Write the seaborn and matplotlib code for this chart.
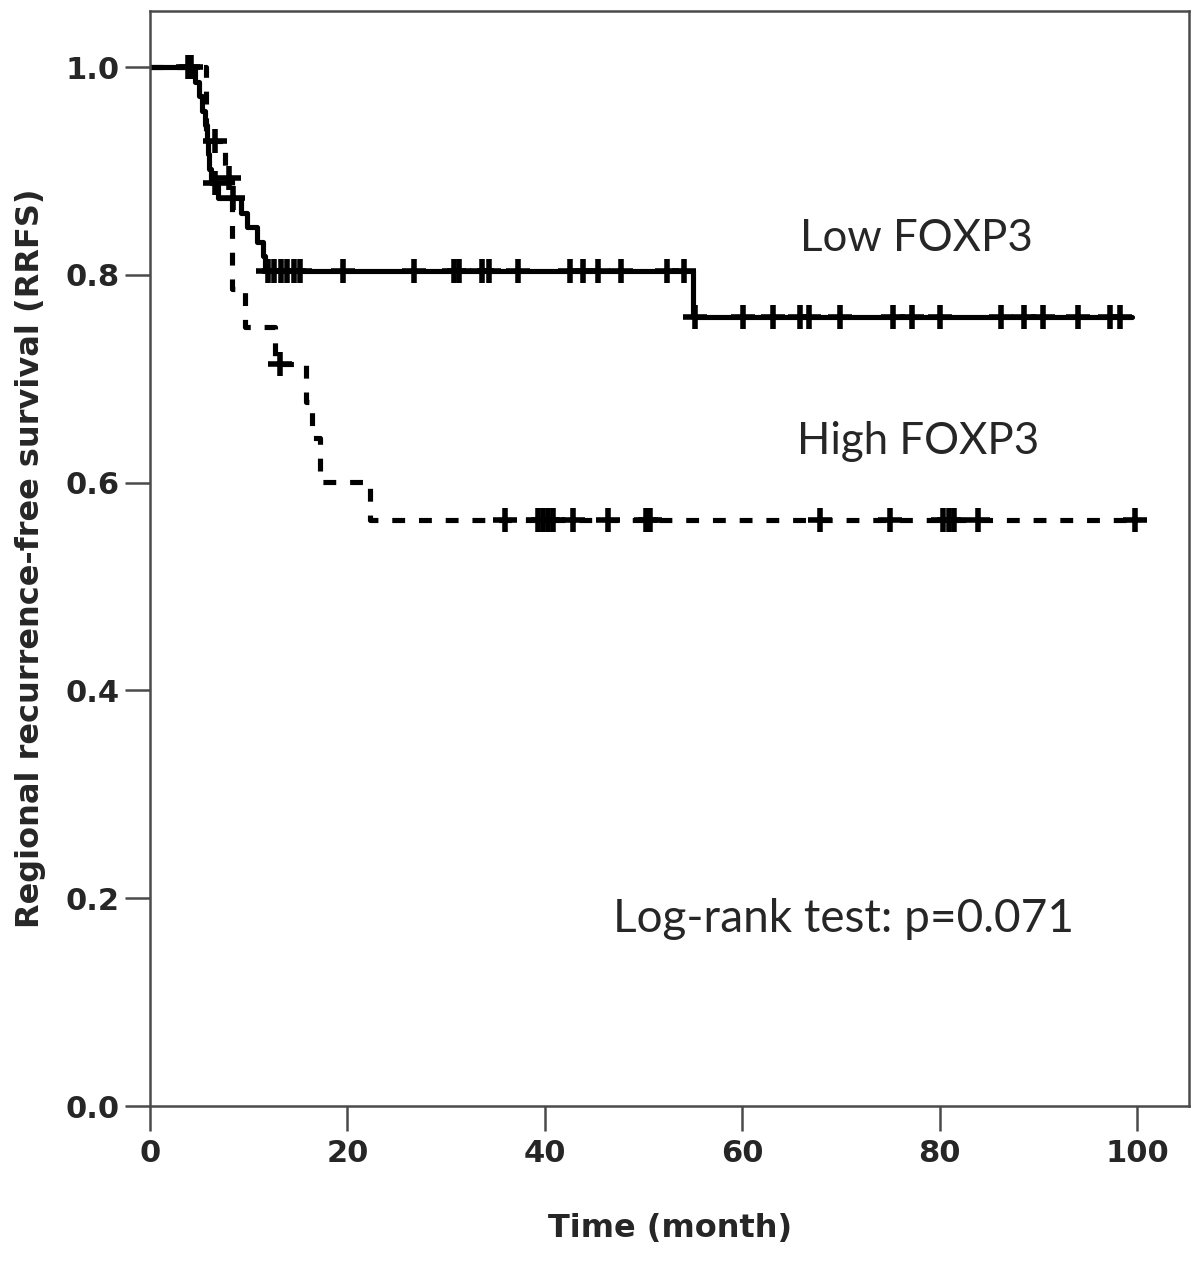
import numpy as np
import pandas as pd
import matplotlib
matplotlib.use("Agg")
import matplotlib.pyplot as plt
import seaborn as sns

# Kaplan-Meier steps (time in months, survival)
low_times = [0, 4.6, 5.0, 5.3, 5.6, 5.8, 5.9, 6.0, 6.2, 6.9, 9.2, 9.8, 10.8, 11.4, 11.7, 55.0, 99.5]
low_surv = [1.0, 0.986, 0.972, 0.958, 0.944, 0.930, 0.916, 0.902, 0.888, 0.874, 0.860, 0.846,
            0.832, 0.818, 0.804, 0.759, 0.759]
low_censor = [3.9, 6.6, 8.4, 12.0, 12.6, 13.3, 13.9, 14.6, 15.2, 19.6, 26.7, 30.8, 31.3, 33.6,
              34.4, 37.3, 42.6, 43.9, 45.4, 47.7, 52.4, 54.1, 55.2, 60.1, 63.1, 65.9, 66.8,
              69.9, 75.3, 77.2, 80.0, 86.2, 88.6, 90.5, 94.0, 97.3, 98.3]

high_times = [0, 5.7, 7.6, 8.3, 9.6, 12.7, 15.8, 16.4, 17.2, 22.3, 100.0]
high_surv = [1.0, 0.929, 0.893, 0.786, 0.750, 0.714, 0.678, 0.643, 0.601, 0.564, 0.564]
high_censor = [4.2, 6.6, 8.0, 13.2, 36.0, 39.3, 39.8, 40.3, 40.8, 42.9, 46.4, 50.3, 50.7,
               67.9, 75.0, 80.4, 81.0, 81.5, 83.9, 99.8]


def censor_frame(times, surv, censor):
    t = np.asarray(times)
    s = np.asarray(surv)
    idx = np.searchsorted(t, censor, side="right") - 1
    return pd.DataFrame({"time": censor, "surv": s[idx]})


low_df = pd.DataFrame({"time": low_times, "surv": low_surv})
high_df = pd.DataFrame({"time": high_times, "surv": high_surv})
low_c = censor_frame(low_times, low_surv, low_censor)
high_c = censor_frame(high_times, high_surv, high_censor)

sns.set_style("ticks")
plt.rcParams["font.family"] = ["DejaVu Sans"]

fig = plt.figure(figsize=(12, 12.62), dpi=100)
ax = fig.add_axes([0.125, 0.1236, 0.866, 0.8677])

lw = 3.7
sns.lineplot(data=low_df, x="time", y="surv", ax=ax, color="black", lw=lw,
             drawstyle="steps-post", estimator=None, sort=False)
sns.lineplot(data=high_df, x="time", y="surv", ax=ax, color="black", lw=lw,
             drawstyle="steps-post", estimator=None, sort=False, linestyle=(0, (2.5, 2.7)))
sns.scatterplot(data=low_c, x="time", y="surv", ax=ax, marker="+", s=300,
                color="black", linewidth=4, zorder=3)
sns.scatterplot(data=high_c, x="time", y="surv", ax=ax, marker="+", s=300,
                color="black", linewidth=4, zorder=3)

ax.set_xlim(0, 105.3)
ax.set_ylim(0, 1.054)
ax.set_xticks([0, 20, 40, 60, 80, 100])
ax.set_yticks([0.0, 0.2, 0.4, 0.6, 0.8, 1.0])
ax.set_yticklabels(["0.0", "0.2", "0.4", "0.6", "0.8", "1.0"])

for sp in ax.spines.values():
    sp.set_color("#4a4a4a")
    sp.set_linewidth(1.8)
ax.tick_params(axis="both", direction="out", length=18, width=1.8, color="#4a4a4a",
               labelsize=22)
ax.tick_params(axis="y", pad=4)
ax.tick_params(axis="x", pad=6)
for lab in ax.get_xticklabels() + ax.get_yticklabels():
    lab.set_fontweight("bold")

ax.set_xlabel("Time (month)", fontsize=23, fontweight="bold", labelpad=32)
ax.set_ylabel("Regional recurrence-free survival (RRFS)", fontsize=23,
              fontweight="bold", labelpad=14)

ann = ["Lato", "DejaVu Sans"]
ax.text(65.9, 0.835, "Low FOXP3", fontsize=31.5, family=ann, va="center", ha="left")
ax.text(65.6, 0.640, "High FOXP3", fontsize=31.5, family=ann, va="center", ha="left")
ax.text(46.9, 0.180, "Log-rank test: p=0.071", fontsize=33, family=ann, va="center", ha="left")

fig.savefig("out.png", dpi=100, facecolor="white")
